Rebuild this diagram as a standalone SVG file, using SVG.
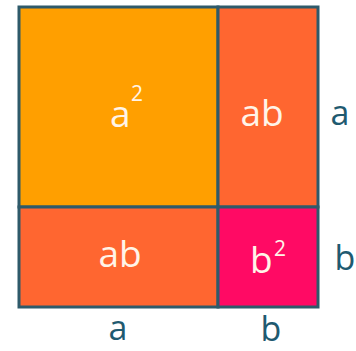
<svg xmlns="http://www.w3.org/2000/svg" width="356" height="351" viewBox="0 0 356 351">
<style>
.cell{stroke:#2e5a6a;stroke-width:3}
.in{font-family:"Open Sans","DejaVu Sans",sans-serif;font-size:37px;fill:#fff4e8}
.mid{text-anchor:middle}
.sup{font-family:"Open Sans","DejaVu Sans",sans-serif;font-size:21px;fill:#fff4e8}
.out{font-family:"Open Sans","DejaVu Sans",sans-serif;font-size:34px;fill:#1f5a70;text-anchor:middle}
</style>
<rect width="356" height="351" fill="#ffffff"/>
<g id="a2">
<rect class="cell" x="19" y="7" width="199" height="200" fill="#ff9f00"/>
<text class="in" x="110" y="127">a</text>
<text class="sup" x="131" y="101">2</text>
</g>
<g id="ab-top">
<rect class="cell" x="218" y="7" width="100" height="200" fill="#ff6630"/>
<text class="in mid" x="262" y="126">ab</text>
</g>
<g id="ab-bottom">
<rect class="cell" x="19" y="207" width="199" height="100" fill="#ff6630"/>
<text class="in mid" x="120" y="267">ab</text>
</g>
<g id="b2">
<rect class="cell" x="218" y="207" width="100" height="100" fill="#ff0a64"/>
<text class="in" x="250" y="273">b</text>
<text class="sup" x="274" y="256">2</text>
</g>
<g id="labels">
<text class="out" x="340" y="125">a</text>
<text class="out" x="345" y="270">b</text>
<text class="out" x="118" y="340">a</text>
<text class="out" x="271" y="341">b</text>
</g>
</svg>
